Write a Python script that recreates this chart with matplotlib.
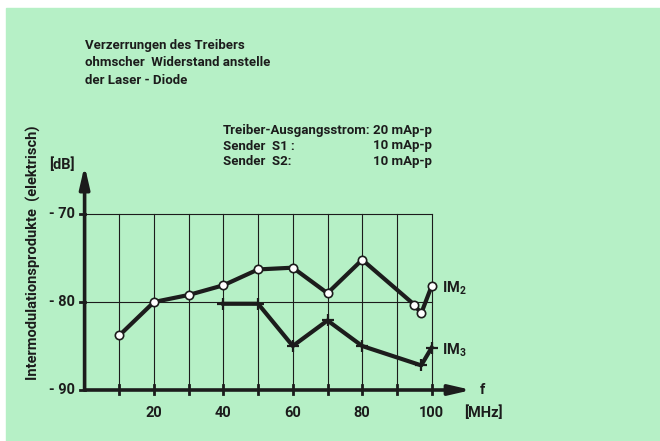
import matplotlib
matplotlib.use("Agg")
import matplotlib.pyplot as plt
from matplotlib.patches import Rectangle

# ---- data
im2_f = [10, 20, 30, 40, 50, 60, 70, 80, 95, 97, 100]
im2_db = [-83.8, -80.0, -79.2, -78.1, -76.3, -76.1, -79.0, -75.2, -80.3, -81.3, -78.2]
im3_f = [40, 50, 60, 70, 80, 97, 100]
im3_db = [-80.2, -80.2, -85.0, -82.1, -85.0, -87.2, -85.2]
xticks = [20, 40, 60, 80, 100]
grid_f = [10, 20, 30, 40, 50, 60, 70, 80, 90, 100]
yticks = [-70, -80, -90]

BG = "#b6f0c6"
INK = "#1c1c1c"
plt.rcParams["font.family"] = ["Roboto", "DejaVu Sans"]
plt.rcParams["font.weight"] = "bold"
plt.rcParams["mathtext.default"] = "regular"

fig = plt.figure(figsize=(6.6, 4.41), dpi=100, facecolor="white")
fig.patches.append(Rectangle((6 / 660, 0), 1, 433 / 441, transform=fig.transFigure,
                             color=BG, zorder=-10))

# axes: x=0 at px 84.6, 10 MHz = 34.7 px ; y=-90 at px 390 (from top), 10 dB = 88 px
W, H = 660, 441
x0, x1 = 0, 115
y0, y1 = -90, -64
left = 84.6 / W
width = (x1 - x0) * 3.47 / W
bottom = (H - 390) / H
height = (y1 - y0) * 8.8 / H
ax = fig.add_axes([left, bottom, width, height])
ax.set_xlim(x0, x1)
ax.set_ylim(y0, y1)
ax.axis("off")

# grid
for f in grid_f:
    ax.plot([f, f], [-90, -70], color=INK, lw=0.8, zorder=1)
    ax.plot([f, f], [-90.5, -89.4], color=INK, lw=2.0, zorder=3, clip_on=False)
for y in [-70, -80]:
    ax.plot([0, 100], [y, y], color=INK, lw=0.8, zorder=1)
for y in yticks:
    ax.plot([-1.2, 0], [y, y], color=INK, lw=2.0, zorder=3, clip_on=False)
    ax.text(-2.8, y, "- " + str(abs(y)), ha="right", va="center", fontsize=10.5, color=INK)
for f in xticks:
    ax.text(f, -92.6, str(f), ha="center", va="center", fontsize=10.5, color=INK, clip_on=False)

# axis arrows
ax.annotate("", xy=(111.5, -90), xytext=(0, -90),
            arrowprops=dict(arrowstyle="-|>,head_length=1.3,head_width=0.3", lw=2.6, color=INK,
                            shrinkA=0, shrinkB=0), zorder=4)
ax.annotate("", xy=(0, -64.5), xytext=(0, -90),
            arrowprops=dict(arrowstyle="-|>,head_length=1.3,head_width=0.3", lw=2.6, color=INK,
                            shrinkA=0, shrinkB=0), zorder=4)

# series
ax.plot(im2_f, im2_db, color=INK, lw=3.0, marker="o", ms=6, mfc="white", mec=INK, mew=1.2,
        zorder=5)
ax.plot(im3_f, im3_db, color=INK, lw=3.0, marker="+", ms=9, mew=1.6, zorder=5)
ax.text(103, -78.5, r"IM$_2$", ha="left", va="center", fontsize=10.5, color=INK)
ax.text(103, -85.5, r"IM$_3$", ha="left", va="center", fontsize=10.5, color=INK)

# axis labels
fig.text(482 / W, 1 - 390 / H, "f", ha="center", va="center", fontsize=10.5, color=INK)
fig.text(483 / W, 1 - 413 / H, "[MHz]", ha="center", va="center", fontsize=10.5, color=INK)
fig.text(62 / W, 1 - 165 / H, "[dB]", ha="center", va="center", fontsize=10.5, color=INK)
fig.text(33 / W, 1 - 253 / H, "Intermodulationsprodukte  (elektrisch)", rotation=90,
         ha="center", va="center", fontsize=10.5, color=INK)

# header texts
fig.text(85 / W, 1 - 39 / H, "Verzerrungen des Treibers\nohmscher  Widerstand anstelle\n"
         "der Laser - Diode", ha="left", va="top", fontsize=9.5, color=INK, linespacing=1.45)
fig.text(223 / W, 1 - 124 / H, "Treiber-Ausgangsstrom:\nSender  S1 :\nSender  S2:",
         ha="left", va="top", fontsize=9.5, color=INK, linespacing=1.25)
fig.text(432 / W, 1 - 124 / H, "20 mAp-p\n10 mAp-p\n10 mAp-p",
         ha="right", va="top", fontsize=9.5, color=INK, linespacing=1.25)

fig.savefig("out.png", dpi=100, facecolor="white")
